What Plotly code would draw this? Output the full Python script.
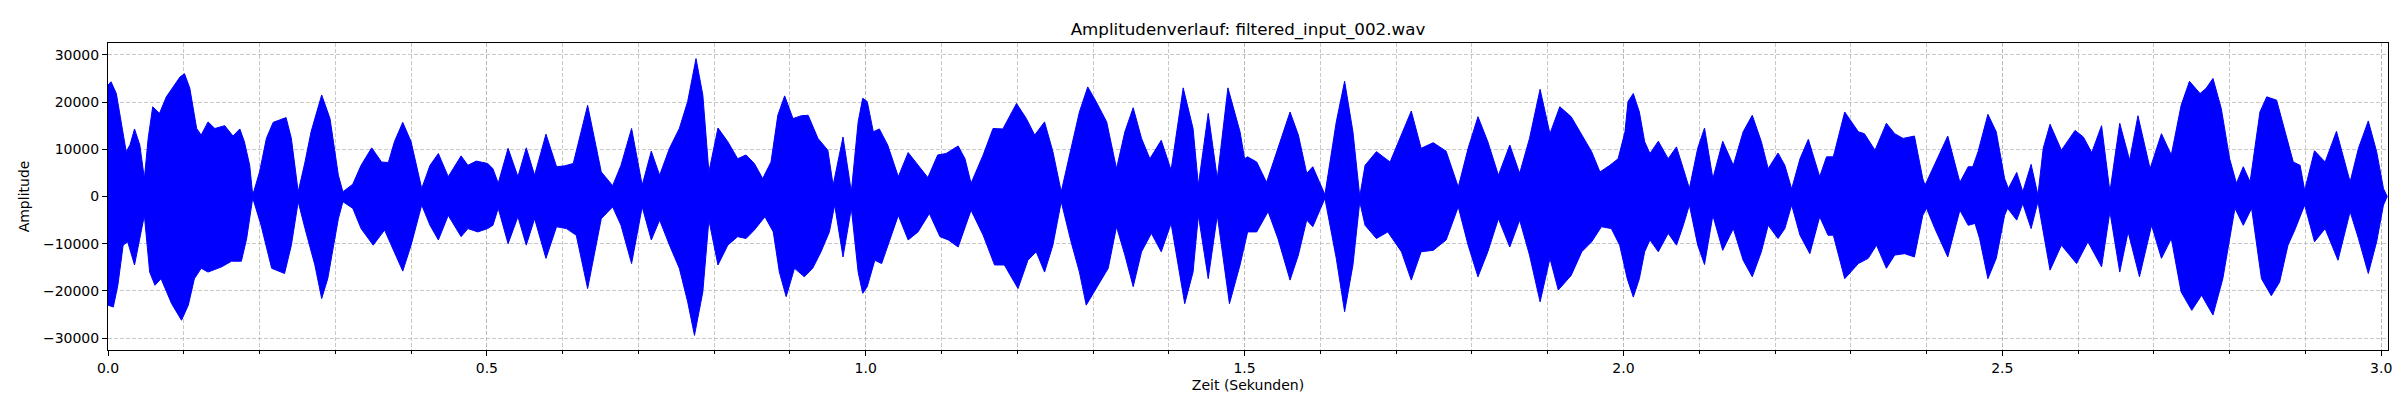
## ----------- imports ----------- ##
import plotly.graph_objects as go


## ----------- envelope of the waveform (seconds / amplitude) ----------- ##
T_UPPER = [
    0.000, 0.004, 0.011, 0.018, 0.024, 0.029, 0.035, 0.042, 0.048, 0.053, 0.059, 0.068, 0.077, 0.086,
    0.095, 0.101, 0.108, 0.117, 0.123, 0.132, 0.141, 0.154, 0.165, 0.174, 0.180, 0.187, 0.191, 0.200,
    0.209, 0.218, 0.235, 0.242, 0.251, 0.260, 0.268, 0.282, 0.293, 0.304, 0.310, 0.323, 0.334, 0.348,
    0.361, 0.370, 0.378, 0.389, 0.400, 0.414, 0.425, 0.436, 0.449, 0.466, 0.475, 0.486, 0.501,
    0.508, 0.515, 0.528, 0.541, 0.552, 0.563, 0.578, 0.592, 0.603, 0.614, 0.633, 0.651, 0.666, 0.677,
    0.691, 0.705, 0.717, 0.728, 0.741, 0.754, 0.765, 0.776, 0.785, 0.793, 0.805, 0.818, 0.831, 0.842,
    0.853, 0.864, 0.875, 0.884, 0.893, 0.904, 0.915, 0.924, 0.937, 0.950, 0.957, 0.970, 0.981, 0.990,
    0.996, 1.002,
    1.010, 1.018, 1.029, 1.043, 1.056, 1.069, 1.082, 1.095, 1.106, 1.122, 1.131, 1.139, 1.155, 1.168,
    1.181, 1.199, 1.212, 1.223, 1.236, 1.247, 1.258, 1.271, 1.282, 1.293, 1.304, 1.318, 1.331, 1.342,
    1.353, 1.364, 1.375, 1.390, 1.403, 1.419, 1.432, 1.439, 1.452, 1.464, 1.478, 1.494, 1.500, 1.504,
    1.516, 1.529, 1.544, 1.560, 1.571, 1.582, 1.590, 1.606, 1.621, 1.632, 1.643, 1.652, 1.659, 1.674,
    1.692, 1.707, 1.720, 1.733, 1.749, 1.766, 1.782, 1.795, 1.808, 1.821, 1.835, 1.850, 1.863, 1.876,
    1.890, 1.903, 1.916, 1.931, 1.945, 1.958, 1.969, 1.982, 1.993, 2.002,
    2.006, 2.013, 2.021, 2.028, 2.035, 2.046, 2.059, 2.070, 2.079, 2.087, 2.098, 2.107, 2.118, 2.131,
    2.145, 2.158, 2.170, 2.182, 2.191, 2.204, 2.213, 2.222, 2.233, 2.244, 2.259, 2.268, 2.277, 2.292,
    2.310, 2.318, 2.332, 2.347, 2.358, 2.369, 2.384, 2.395, 2.398, 2.411, 2.428, 2.444, 2.455, 2.461,
    2.468, 2.481, 2.492, 2.503,
    2.508, 2.519, 2.527, 2.538, 2.547, 2.554, 2.563, 2.578, 2.596, 2.607, 2.618, 2.631, 2.642, 2.655,
    2.668, 2.679, 2.695, 2.710, 2.723, 2.736, 2.747, 2.761, 2.769, 2.778, 2.789, 2.800, 2.809, 2.818,
    2.827, 2.840, 2.849, 2.862, 2.873, 2.884, 2.893, 2.899, 2.912, 2.926, 2.941, 2.959, 2.970, 2.983,
    2.994, 3.003, 3.008,
]
UPPER = [
    23600, 24300, 21800, 15100, 9500, 10900, 14300, 10900, 3800, 12300, 19000, 17600, 21100, 23200,
    25300, 26000, 22900, 14400, 13000, 15800, 14400, 15000, 12800, 14300, 11600, 6600, 300, 5200,
    12300, 15700, 16700, 12300, 1000, 7300, 13700, 21500, 16500, 4500, 1000, 2600, 6600, 10300,
    7300, 7200, 11600, 15700, 11600, 1700, 6600, 9100, 4200, 8600, 6600, 7500, 7000,
    5900, 2800, 10200, 4200, 10300, 4500, 13200, 6300, 6500, 7000, 19300, 5200, 2300, 6600,
    14400, 2400, 9600, 4500, 10200, 14400, 20100, 29200, 21500, 5200, 14500, 11600, 8000, 8800,
    7000, 3800, 7300, 17200, 21300, 16500, 17100, 17200, 12300, 9800, 2400, 12600, 1000, 15800,
    20800, 20100,
    13700, 14300, 10900, 4200, 9300, 6600, 4000, 8800, 9100, 10700, 8000, 2800, 8800, 14400,
    14300, 19700, 16500, 13000, 15800, 9500, 1000, 10200, 17900, 23200, 20100, 15800, 5900, 13700,
    18800, 12300, 8000, 11900, 5600, 23000, 14400, 2400, 17600, 3800, 23000, 13700, 8000, 8400,
    7300, 3000, 10200, 17900, 13000, 4900, 6300, 400, 15800, 24400, 13700, 0, 6600, 9500,
    7300, 13000, 18100, 10200, 11400, 9600, 2000, 10200, 16900, 11600, 4500, 10900, 4900, 12300,
    22700, 13300, 19000, 16900, 13000, 9500, 5200, 6600, 8000, 13700,
    20100, 21800, 17900, 11600, 9100, 11700, 8000, 10500, 5900, 1700, 10200, 14500, 3800, 11700,
    6600, 13700, 17200, 11600, 5900, 9200, 6600, 1600, 8000, 12100, 4200, 8400, 8400, 17900,
    13700, 13300, 9800, 15500, 13300, 12300, 12800, 3800, 2400, 7000, 12800, 3000, 6300, 6300,
    9500, 17400, 13700, 3800,
    1700, 5100, 1000, 6800, 300, 10200, 15300, 9800, 14000, 12600, 9300, 15000, 1000, 15500,
    7700, 17100, 5900, 13300, 8800, 19300, 24400, 21800, 22900, 25000, 18600, 8000, 2800, 6300,
    3100, 17900, 21100, 20400, 13700, 7300, 6600, 1300, 9700, 7300, 13800, 3100, 10200, 16000,
    9500, 1700, 0,
]

T_LOWER = [
    0.000, 0.007, 0.013, 0.020, 0.026, 0.035, 0.042, 0.048, 0.055, 0.062, 0.070, 0.084, 0.097, 0.106,
    0.114, 0.123, 0.132, 0.150, 0.163, 0.176, 0.183, 0.191, 0.202, 0.216, 0.233, 0.242, 0.251, 0.260,
    0.273, 0.282, 0.290, 0.304, 0.310, 0.323, 0.334, 0.350, 0.365, 0.378, 0.389, 0.400, 0.414, 0.425,
    0.436, 0.449, 0.466, 0.475, 0.488, 0.501,
    0.508, 0.515, 0.528, 0.541, 0.552, 0.563, 0.578, 0.592, 0.605, 0.618, 0.633, 0.651, 0.666, 0.677,
    0.691, 0.705, 0.717, 0.728, 0.741, 0.754, 0.765, 0.774, 0.785, 0.793, 0.805, 0.818, 0.831, 0.842,
    0.853, 0.867, 0.878, 0.886, 0.895, 0.906, 0.919, 0.930, 0.941, 0.952, 0.959, 0.970, 0.981, 0.990,
    0.996, 1.002,
    1.012, 1.021, 1.032, 1.043, 1.056, 1.069, 1.084, 1.098, 1.109, 1.122, 1.139, 1.155, 1.170, 1.183,
    1.201, 1.214, 1.225, 1.236, 1.247, 1.258, 1.271, 1.282, 1.291, 1.307, 1.320, 1.331, 1.342, 1.353,
    1.364, 1.377, 1.390, 1.403, 1.421, 1.432, 1.439, 1.452, 1.464, 1.480, 1.494, 1.504,
    1.516, 1.531, 1.544, 1.560, 1.571, 1.582, 1.590, 1.606, 1.621, 1.632, 1.643, 1.652, 1.659, 1.674,
    1.689, 1.707, 1.720, 1.733, 1.749, 1.766, 1.782, 1.795, 1.808, 1.821, 1.835, 1.850, 1.863, 1.876,
    1.890, 1.903, 1.914, 1.931, 1.945, 1.958, 1.971, 1.984, 1.995, 2.005,
    2.013, 2.021, 2.028, 2.035, 2.046, 2.059, 2.070, 2.079, 2.087, 2.098, 2.107, 2.118, 2.131, 2.145,
    2.158, 2.170, 2.182, 2.191, 2.204, 2.213, 2.222, 2.233, 2.246, 2.259, 2.270, 2.277, 2.292, 2.310,
    2.323, 2.334, 2.347, 2.358, 2.371, 2.384, 2.395, 2.400, 2.411, 2.428, 2.444, 2.455, 2.464, 2.470,
    2.481, 2.492, 2.503, 2.507,
    2.519, 2.527, 2.538, 2.547, 2.554, 2.563, 2.578, 2.598, 2.613, 2.631, 2.642, 2.655, 2.666, 2.681,
    2.697, 2.710, 2.723, 2.736, 2.750, 2.763, 2.778, 2.791, 2.807, 2.818, 2.829, 2.842, 2.855, 2.866,
    2.877, 2.886, 2.899, 2.912, 2.926, 2.943, 2.959, 2.970, 2.983, 2.994, 3.003, 3.008,
]
LOWER = [
    -23000, -23400, -18800, -10300, -9600, -14500, -8900, -4000, -16000, -18800, -17400, -22700, -26200, -23000,
    -17400, -15200, -16000, -14900, -13700, -13700, -8900, -300, -6100, -15200, -16300, -10300, -1100, -6800,
    -14500, -21600, -17400, -4700, -1100, -2500, -6800, -10300, -7100, -11700, -15800, -10300, -1800, -6100,
    -9200, -4000, -8500, -6800, -7500, -6800,
    -6100, -2500, -10000, -4300, -10300, -4700, -13100, -6400, -6800, -8200, -19500, -4700, -2200, -6100,
    -14200, -2200, -9200, -5000, -10300, -15200, -22300, -29400, -20200, -5000, -14500, -10300, -8500, -8900,
    -7100, -4300, -7500, -16000, -21200, -15200, -17000, -15200, -11700, -7500, -1800, -12800, -2500, -16000,
    -20500, -19100,
    -13500, -14200, -8900, -4000, -9200, -7500, -3600, -8500, -9200, -10700, -2900, -8200, -14500, -14500,
    -19500, -13500, -11700, -16000, -10300, -1100, -9600, -16000, -23000, -18800, -15200, -6400, -12400, -19100,
    -11700, -7800, -11700, -5700, -22700, -16000, -4000, -17400, -4000, -22700, -14500, -7500,
    -7500, -3200, -8900, -17700, -12400, -5000, -6400, -400, -13100, -24400, -14500, -1100, -6100, -8900,
    -7500, -11700, -17700, -11700, -11400, -9200, -2200, -10300, -17000, -11700, -4700, -10700, -5000, -12400,
    -22300, -13100, -19800, -16700, -11700, -9600, -6400, -6800, -10300, -17400,
    -21300, -17400, -11700, -9200, -11700, -7800, -10300, -6100, -1800, -10300, -14400, -4000, -11400, -6800,
    -13500, -17000, -11700, -6100, -8900, -6800, -1800, -8200, -12100, -4300, -8200, -8200, -17400, -14200,
    -13100, -10300, -15200, -12400, -12100, -12800, -4000, -2500, -6800, -12800, -2900, -6100, -5700, -8900,
    -17400, -13100, -4000, -2500,
    -5000, -1500, -6800, -1100, -7500, -15600, -10300, -14200, -9600, -14900, -3200, -16000, -7500, -17000,
    -6100, -13100, -8900, -20200, -24100, -20900, -25100, -17400, -2500, -6100, -2500, -17400, -21000, -18100,
    -10300, -7100, -1800, -9600, -6800, -13500, -3200, -8900, -16300, -9600, -1800, 0,
]

X_TICKS = [0.0, 0.5, 1.0, 1.5, 2.0, 2.5, 3.0]
X_TICK_LABELS = ["0.0", "0.5", "1.0", "1.5", "2.0", "2.5", "3.0"]
Y_TICKS = [-30000, -20000, -10000, 0, 10000, 20000, 30000]
Y_TICK_LABELS = ["\u221230000", "\u221220000", "\u221210000", "0", "10000", "20000", "30000"]

FONT = "DejaVu Sans"
GRID = "rgba(176,176,176,0.7)"
GRID_DASH = "4px,2px"


def build_figure():
    ## polygon: upper edge left to right, then lower edge back
    xs = T_UPPER + T_LOWER[::-1]
    ys = UPPER + LOWER[::-1]

    fig = go.Figure()
    fig.add_trace(go.Scatter(
        x=xs,
        y=ys,
        mode="lines",
        fill="toself",
        fillcolor="#0000ff",
        line=dict(color="#0000ff", width=1),
        showlegend=False,
        hoverinfo="skip",
    ))

    axis_common = dict(
        showline=True,
        linecolor="black",
        linewidth=1,
        mirror=True,
        ticks="outside",
        ticklen=5,
        tickcolor="black",
        showgrid=True,
        gridcolor=GRID,
        griddash=GRID_DASH,
        gridwidth=1,
        zeroline=False,
        tickfont=dict(family=FONT, size=14, color="black"),
    )

    fig.update_layout(
        width=2400,
        height=400,
        margin=dict(l=100, r=20, t=35, b=58),
        paper_bgcolor="white",
        plot_bgcolor="white",
        font=dict(family=FONT, color="black"),
        title=dict(
            text="Amplitudenverlauf: filtered_input_002.wav",
            x=0.5 + (100 - 20) / 2 / 2400,
            xanchor="center",
            y=1 - 21 / 400,
            yanchor="middle",
            font=dict(family=FONT, size=16.7, color="black"),
        ),
        xaxis=dict(
            range=[0, 3.009],
            tickvals=X_TICKS,
            ticktext=X_TICK_LABELS,
            title=dict(text="Zeit (Sekunden)", font=dict(family=FONT, size=14), standoff=5),
            minor=dict(dtick=0.1, tick0=0, ticks="outside", ticklen=3, tickcolor="black",
                       showgrid=True, gridcolor=GRID, griddash=GRID_DASH, gridwidth=1),
            automargin=False,
            **axis_common,
        ),
        yaxis=dict(
            range=[-32500, 32500],
            tickvals=Y_TICKS,
            ticktext=Y_TICK_LABELS,
            title=dict(text="Amplitude", font=dict(family=FONT, size=14), standoff=10),
            automargin=False,
            **axis_common,
        ),
    )
    return fig


def main():
    fig = build_figure()
    fig.write_html("out.html")


if __name__ == "__main__":
    main()
